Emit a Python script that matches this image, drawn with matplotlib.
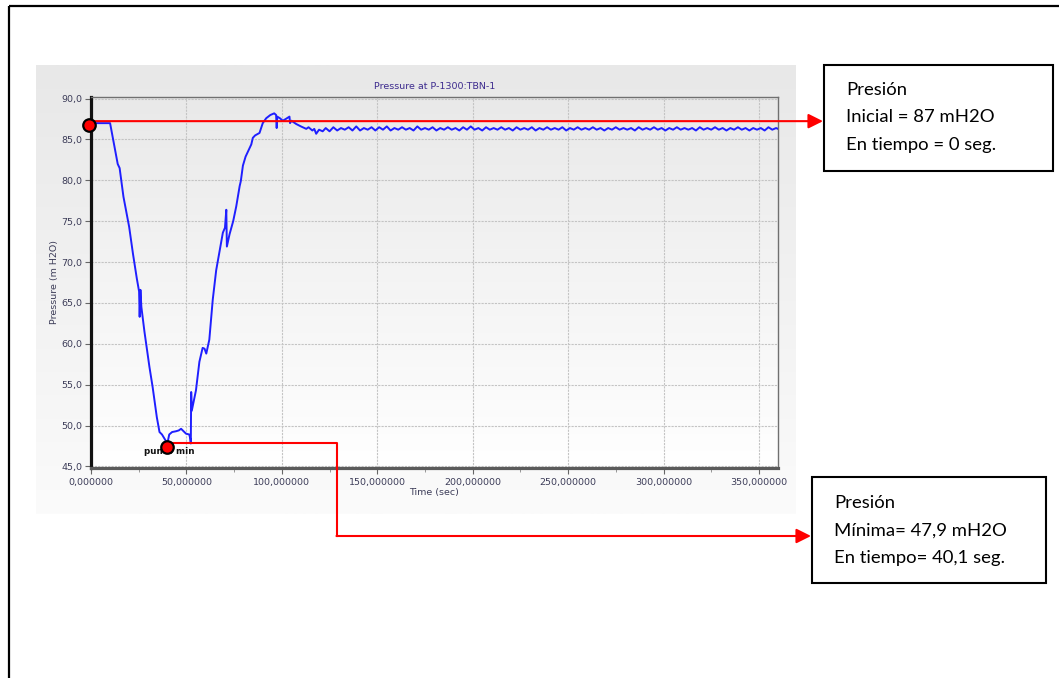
import numpy as np
import matplotlib.pyplot as plt
from matplotlib.ticker import FuncFormatter, MultipleLocator
from matplotlib.patches import Rectangle
from matplotlib.colors import LinearSegmentedColormap

# === data ===
t_transient = [0, 10, 12, 14, 15, 17, 20, 22, 24, 25.2, 25.5, 25.9, 26.4, 28, 30.6,
               32.3, 33.2, 34.5, 35.9, 37.2, 39, 40.1, 41, 42.5, 44.6, 46, 47.2, 48.5,
               49.8, 51.5, 52, 52.3, 52.5, 52.8, 55, 56.8, 58.5, 59.5, 60.4, 62, 63,
               63.8, 65.6, 69.1, 70.2, 70.9, 71.2, 72.6, 74.5, 76.1, 77.9, 78.5, 79.6,
               81, 82.2, 84, 84.8, 86, 88.3, 90, 91.8, 94, 96, 97, 97.3, 97.6, 99,
               100.5, 102, 104, 104.3, 105, 107.5, 110, 112.8, 114, 116, 117, 118,
               119.5, 121.4]
p_transient = [87.0, 87.0, 84.5, 82.0, 81.5, 78.0, 74.3, 71.0, 68.0, 66.4, 63.3, 66.6,
               64.5, 61.5, 57.2, 54.7, 53.2, 51.0, 49.2, 48.9, 48.2, 47.9, 48.9, 49.2,
               49.3, 49.4, 49.6, 49.3, 49.0, 48.9, 48.4, 47.8, 54.1, 51.8, 54.3, 57.8,
               59.5, 59.4, 58.8, 60.5, 63.3, 65.4, 69.0, 73.6, 74.2, 76.4, 71.9, 73.4,
               75.0, 76.8, 79.3, 79.9, 81.8, 82.9, 83.5, 84.4, 85.2, 85.5, 85.8, 87.0,
               87.6, 88.0, 88.2, 88.0, 86.4, 87.8, 87.6, 87.3, 87.5, 87.8, 87.0, 87.3,
               86.9, 86.6, 86.3, 86.5, 86.1, 86.3, 85.7, 86.2, 86.0]
t_steady = [123, 125, 127, 129, 131, 133, 135, 137, 139, 141, 143, 145, 147, 149, 151,
            153, 155, 157, 159, 161, 163, 165, 167, 169, 171, 173, 175, 177, 179, 181,
            183, 185, 187, 189, 191, 193, 195, 197, 199, 201, 203, 205, 207, 209, 211,
            213, 215, 217, 219, 221, 223, 225, 227, 229, 231, 233, 235, 237, 239, 241,
            243, 245, 247, 249, 251, 253, 255, 257, 259, 261, 263, 265, 267, 269, 271,
            273, 275, 277, 279, 281, 283, 285, 287, 289, 291, 293, 295, 297, 299, 301,
            303, 305, 307, 309, 311, 313, 315, 317, 319, 321, 323, 325, 327, 329, 331,
            333, 335, 337, 339, 341, 343, 345, 347, 349, 351, 353, 355, 357, 359, 360]
p_steady = [86.4, 86.0, 86.5, 86.1, 86.4, 86.2, 86.5, 86.1, 86.6, 86.1, 86.4, 86.2,
            86.5, 86.1, 86.5, 86.2, 86.6, 86.1, 86.4, 86.2, 86.5, 86.2, 86.4, 86.1,
            86.6, 86.2, 86.4, 86.2, 86.5, 86.1, 86.4, 86.2, 86.5, 86.2, 86.4, 86.1,
            86.5, 86.2, 86.6, 86.2, 86.4, 86.1, 86.5, 86.2, 86.4, 86.2, 86.5, 86.2,
            86.4, 86.1, 86.5, 86.2, 86.4, 86.2, 86.5, 86.1, 86.4, 86.2, 86.5, 86.2,
            86.4, 86.2, 86.5, 86.1, 86.4, 86.2, 86.5, 86.2, 86.4, 86.2, 86.5, 86.2,
            86.4, 86.1, 86.4, 86.2, 86.5, 86.2, 86.4, 86.2, 86.4, 86.1, 86.5, 86.2,
            86.4, 86.2, 86.5, 86.2, 86.4, 86.1, 86.4, 86.2, 86.5, 86.2, 86.4, 86.2,
            86.4, 86.1, 86.5, 86.2, 86.4, 86.2, 86.5, 86.2, 86.4, 86.1, 86.4, 86.2,
            86.5, 86.2, 86.4, 86.1, 86.4, 86.2, 86.4, 86.1, 86.5, 86.2, 86.4, 86.3]

t_init, p_init = 0.0, 87.0
t_min, p_min = 40.1, 47.9

box1_lines = ["Presión", "Inicial = 87 mH2O", "En tiempo = 0 seg."]
box2_lines = ["Presión", "Mínima= 47,9 mH2O", "En tiempo= 40,1 seg."]

time = t_transient + t_steady
pressure = p_transient + p_steady

# === figure ===
W, H = 1059, 678
fig = plt.figure(figsize=(W / 100, H / 100), dpi=100)

def fbox(x0, y0, x1, y1):
    # pixel box (top-left origin) -> figure fraction rect
    return [x0 / W, 1 - y1 / H, (x1 - x0) / W, (y1 - y0) / H]

grad = np.linspace(0, 1, 256).reshape(-1, 1)

# gray panel behind the chart
ax_bg = fig.add_axes(fbox(36, 65, 796, 514), zorder=0)
ax_bg.imshow(grad, aspect="auto", extent=[0, 1, 0, 1], origin="upper",
             cmap=LinearSegmentedColormap.from_list("g", ["#e8e8e8", "#fbfbfb"]))
ax_bg.axis("off")

ax = fig.add_axes(fbox(91, 97, 778, 468), zorder=1)
ax.imshow(grad, aspect="auto", extent=[0, 1, 0, 1], origin="upper",
          cmap=LinearSegmentedColormap.from_list("g2", ["#e9e9e9", "#ffffff"]),
          transform=ax.transAxes, zorder=0)
ax.plot(time, pressure, color="#1f1fff", lw=1.4, zorder=3)
ax.set_xlim(0, 360)
ax.set_ylim(44.8, 90.2)
ax.xaxis.set_major_locator(MultipleLocator(50))
ax.xaxis.set_minor_locator(MultipleLocator(25))
ax.yaxis.set_major_locator(MultipleLocator(5))
ax.xaxis.set_major_formatter(FuncFormatter(lambda v, p: f"{v:.6f}".replace(".", ",")))
ax.yaxis.set_major_formatter(FuncFormatter(lambda v, p: f"{v:.1f}".replace(".", ",")))
ax.grid(True, which="major", color="#c4c4c4", lw=0.8, ls=(0, (2, 1)), zorder=1)
ax.set_axisbelow(True)
lab_col = "#3c3c58"
ax.tick_params(axis="both", which="major", labelsize=6.8, labelcolor=lab_col,
               color="#666666", length=4, width=0.8)
ax.tick_params(axis="x", which="major", pad=3)
ax.tick_params(axis="x", which="minor", length=3, color="#888888")
ax.tick_params(axis="y", pad=2)
ax.spines["left"].set_color("#111111")
ax.spines["left"].set_linewidth(2.3)
ax.spines["bottom"].set_color("#5a5a5a")
ax.spines["bottom"].set_linewidth(2.3)
for s in ("top", "right"):
    ax.spines[s].set_color("#707070")
    ax.spines[s].set_linewidth(1.0)
ax.set_title("Pressure at P-1300:TBN-1", fontsize=6.8, color="#3d2b8e", pad=6)
ax.set_xlabel("Time (sec)", fontsize=6.8, color=lab_col, labelpad=1)
ax.set_ylabel("Pressure (m H2O)", fontsize=6.8, color=lab_col, labelpad=2)

# overlay in pixel coordinates for the annotations
ax_o = fig.add_axes([0, 0, 1, 1], zorder=2)
ax_o.set_xlim(0, W)
ax_o.set_ylim(H, 0)
ax_o.axis("off")
ax_o.patch.set_alpha(0)

def to_px(x, y):
    dx, dy = ax.transData.transform((x, y))
    return dx, H - dy

# outer frame
ax_o.plot([9, W], [6, 6], color="black", lw=1.6, solid_capstyle="butt")
ax_o.plot([9, 9], [6, H], color="black", lw=1.6, solid_capstyle="butt")

red = "#ff0000"
arrow = dict(arrowstyle="-|>", color=red, lw=1.5, mutation_scale=22,
             shrinkA=0, shrinkB=0)

# initial pressure
x0, y0 = to_px(t_init, p_init)
ax_o.annotate("", xy=(823, y0 - 2), xytext=(x0, y0 - 2), arrowprops=arrow)
ax_o.plot(x0 - 2, y0 + 2, "o", ms=9, mfc=red, mec="black", mew=1.6, zorder=5)

# minimum pressure
xm, ym = to_px(t_min, p_min)
xc, _ = to_px(129, p_min)
ax_o.text(xm + 2, ym + 9, "punto min", fontsize=6.3, fontweight="bold",
          ha="center", va="center", color="#111111")
ax_o.plot([xm, xc, xc], [ym, ym, 536], color=red, lw=1.5)
ax_o.annotate("", xy=(811, 536), xytext=(xc - 0.7, 536), arrowprops=arrow)
ax_o.plot(xm - 1, ym + 4, "o", ms=9, mfc=red, mec="black", mew=1.6, zorder=5)

# text boxes
def text_box(x0, y0, x1, y1, lines, tx, ty):
    ax_o.add_patch(Rectangle((x0, y0), x1 - x0, y1 - y0, fill=True, fc="white",
                             ec="black", lw=1.5))
    for i, s in enumerate(lines):
        ax_o.text(tx, ty + i * 27.5, s, fontsize=13.3, family="Lato",
                  va="center", ha="left", color="black")

text_box(824, 65, 1053, 171, box1_lines, 846, 90)
text_box(812, 477, 1046, 583, box2_lines, 834, 503)

fig.savefig("out.png", dpi=100)
